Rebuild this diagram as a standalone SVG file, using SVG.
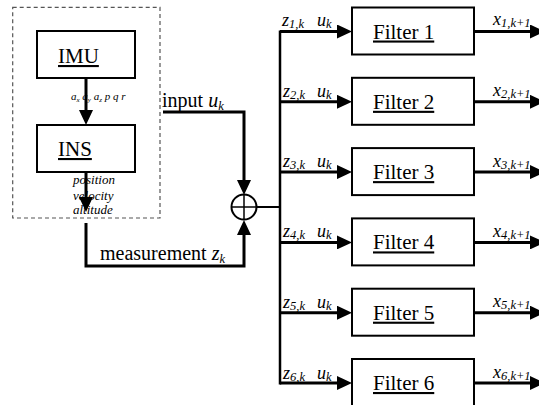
<svg xmlns="http://www.w3.org/2000/svg" width="539" height="405" viewBox="0 0 539 405">
  <style>
    text { font-family: "Liberation Serif", "Times New Roman", serif; fill: #000; }
    .box { fill: #fff; stroke: #000; stroke-width: 2; }
    .frame { fill: none; stroke: #555; stroke-width: 1.2; stroke-dasharray: 4 3; }
    .title { font-size: 21px; text-decoration: underline; }
    .big { font-size: 20px; }
    .it { font-style: italic; }
    .lab { font-size: 18px; font-style: italic; }
    .sub { font-size: 12.5px; font-style: italic; }
    .tiny { font-size: 11px; font-style: italic; }
    .tsub { font-size: 7px; font-style: italic; }
    .sig { font-size: 13px; font-style: italic; }
    .wire { fill: none; stroke: #000; stroke-width: 3; }
    .bus { fill: none; stroke: #000; stroke-width: 2.5; }
    .thin { fill: none; stroke: #000; stroke-width: 2; }
  </style>
  <defs>
    <marker id="head" viewBox="0 0 15 14" refX="0" refY="7" markerWidth="15" markerHeight="14" markerUnits="userSpaceOnUse" orient="auto">
      <path d="M0,0 L15,7 L0,14 z" fill="#000"/>
    </marker>
  </defs>

  <!-- navigation subsystem frame -->
  <rect class="frame" x="12.7" y="7.3" width="147.3" height="210.7"/>

  <g id="imu">
    <rect class="box" x="37" y="31" width="98" height="47"/>
    <text class="title" x="58" y="63">IMU</text>
  </g>

  <g id="ins">
    <rect class="box" x="37" y="125" width="98" height="47"/>
    <text class="title" x="58" y="156">INS</text>
  </g>

  <g id="sum">
    <circle cx="244" cy="207" r="12.5" fill="#fff" stroke="#000" stroke-width="2"/>
    <line x1="231.5" y1="207" x2="256.5" y2="207" stroke="#000" stroke-width="1.5"/>
    <line x1="244" y1="194.5" x2="244" y2="219.5" stroke="#000" stroke-width="1.5"/>
  </g>

  <g id="filter1">
    <rect class="box" x="352" y="7.5" width="122" height="47"/>
    <text class="title" x="373" y="38.5">Filter 1</text>
  </g>
  <g id="filter2">
    <rect class="box" x="352" y="77.8" width="122" height="47"/>
    <text class="title" x="373" y="108.8">Filter 2</text>
  </g>
  <g id="filter3">
    <rect class="box" x="352" y="148.1" width="122" height="47"/>
    <text class="title" x="373" y="179.1">Filter 3</text>
  </g>
  <g id="filter4">
    <rect class="box" x="352" y="218.4" width="122" height="47"/>
    <text class="title" x="373" y="249.4">Filter 4</text>
  </g>
  <g id="filter5">
    <rect class="box" x="352" y="288.7" width="122" height="47"/>
    <text class="title" x="373" y="319.7">Filter 5</text>
  </g>
  <g id="filter6">
    <rect class="box" x="352" y="359" width="122" height="47"/>
    <text class="title" x="373" y="390">Filter 6</text>
  </g>

  <!-- signal labels -->
  <g id="labels">
    <text class="tiny" x="71" y="100">a<tspan class="tsub" dy="1.5">x</tspan><tspan dy="-1.5"> a</tspan><tspan class="tsub" dy="1.5">y</tspan><tspan dy="-1.5"> a</tspan><tspan class="tsub" dy="1.5">z</tspan><tspan dy="-1.5"> p q r</tspan></text>
    <text class="sig" x="73" y="184">position</text>
    <text class="sig" x="73" y="199.5">velocity</text>
    <text class="sig" x="73" y="214">altitude</text>
    <text class="big" x="162" y="107">input <tspan class="it">u</tspan><tspan class="sub" dy="3">k</tspan></text>
    <text class="big" x="100" y="260">measurement <tspan class="it">z</tspan><tspan class="sub" dy="3">k</tspan></text>

    <text class="lab" x="282" y="25.5">z<tspan class="sub" dy="2">1,k</tspan></text>
    <text class="lab" x="317" y="25.5">u<tspan class="sub" dy="2">k</tspan></text>
    <text class="lab" x="283" y="97">z<tspan class="sub" dy="2">2,k</tspan></text>
    <text class="lab" x="317" y="97">u<tspan class="sub" dy="2">k</tspan></text>
    <text class="lab" x="283" y="167">z<tspan class="sub" dy="2">3,k</tspan></text>
    <text class="lab" x="317" y="167">u<tspan class="sub" dy="2">k</tspan></text>
    <text class="lab" x="283" y="237">z<tspan class="sub" dy="2">4,k</tspan></text>
    <text class="lab" x="317" y="237">u<tspan class="sub" dy="2">k</tspan></text>
    <text class="lab" x="283" y="307.5">z<tspan class="sub" dy="2">5,k</tspan></text>
    <text class="lab" x="317" y="307.5">u<tspan class="sub" dy="2">k</tspan></text>
    <text class="lab" x="283" y="379">z<tspan class="sub" dy="2">6,k</tspan></text>
    <text class="lab" x="317" y="379">u<tspan class="sub" dy="2">k</tspan></text>

    <text class="lab" x="493" y="25">x<tspan class="sub" dy="2">1,k+1</tspan></text>
    <text class="lab" x="493" y="96">x<tspan class="sub" dy="2">2,k+1</tspan></text>
    <text class="lab" x="493" y="167">x<tspan class="sub" dy="2">3,k+1</tspan></text>
    <text class="lab" x="493" y="237">x<tspan class="sub" dy="2">4,k+1</tspan></text>
    <text class="lab" x="493" y="307">x<tspan class="sub" dy="2">5,k+1</tspan></text>
    <text class="lab" x="493" y="378">x<tspan class="sub" dy="2">6,k+1</tspan></text>
  </g>

  <g id="connectors">
    <line class="wire" x1="86" y1="78" x2="86" y2="110" marker-end="url(#head)"/>
    <line class="wire" x1="86" y1="172" x2="86" y2="197" marker-end="url(#head)"/>
    <polyline class="wire" points="163,112 244,112 244,180" marker-end="url(#head)"/>
    <polyline class="wire" points="86,223 86,266 244,266 244,235" marker-end="url(#head)"/>
    <line class="thin" x1="256.5" y1="207" x2="281" y2="207"/>
    <line class="bus" x1="280" y1="30.5" x2="280" y2="384.5"/>

    <line class="wire" x1="280" y1="31.5" x2="337" y2="31.5" marker-end="url(#head)"/>
    <line class="wire" x1="280" y1="101.8" x2="337" y2="101.8" marker-end="url(#head)"/>
    <line class="wire" x1="280" y1="172.1" x2="337" y2="172.1" marker-end="url(#head)"/>
    <line class="wire" x1="280" y1="242.4" x2="337" y2="242.4" marker-end="url(#head)"/>
    <line class="wire" x1="280" y1="312.7" x2="337" y2="312.7" marker-end="url(#head)"/>
    <line class="wire" x1="280" y1="383" x2="337" y2="383" marker-end="url(#head)"/>

    <line class="wire" x1="474" y1="31.5" x2="530" y2="31.5" marker-end="url(#head)"/>
    <line class="wire" x1="474" y1="101.8" x2="530" y2="101.8" marker-end="url(#head)"/>
    <line class="wire" x1="474" y1="172.1" x2="530" y2="172.1" marker-end="url(#head)"/>
    <line class="wire" x1="474" y1="242.4" x2="530" y2="242.4" marker-end="url(#head)"/>
    <line class="wire" x1="474" y1="312.7" x2="530" y2="312.7" marker-end="url(#head)"/>
    <line class="wire" x1="474" y1="383" x2="530" y2="383" marker-end="url(#head)"/>
  </g>
</svg>
